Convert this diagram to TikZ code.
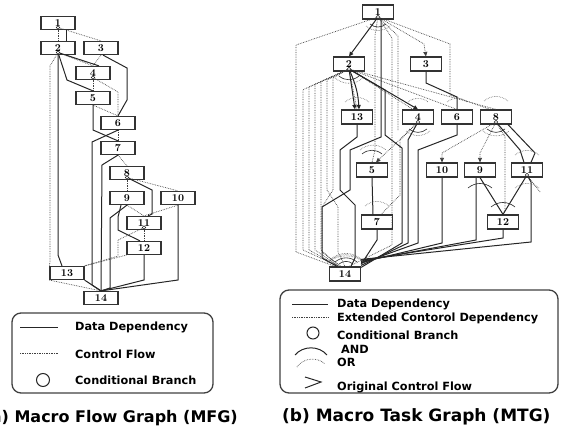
\documentclass[tikz,border=0pt]{standalone}
\usepackage{fontspec}
\usepackage{tikz}
\usetikzlibrary{arrows.meta}
\newfontfamily\legfont{DejaVu Sans}

\begin{document}
\begin{tikzpicture}[x=1pt,y=-1pt,
  mt/.style={draw=black!80,line width=1.2pt,fill=white,minimum width=34pt,minimum height=13pt,inner sep=0pt,font=\bfseries\fontsize{10.5}{10.5}\selectfont},
  tk/.style={mt,minimum width=31pt,minimum height=14pt},
  dep/.style={black!85,line width=1pt},
  ctl/.style={black!75,line width=0.7pt,densely dotted},
  cb/.style={circle,draw=black!85,line width=0.6pt,fill=white,inner sep=0pt,minimum size=3.4pt},
  andarc/.style={black!85,line width=0.6pt},
  orarc/.style={black!65,line width=0.6pt,densely dotted},
  arr/.style={-{Triangle[length=4.5pt,width=4pt]}},
  legbox/.style={draw=black!75,line width=1.3pt,rounded corners=9pt},
  legtxt/.style={anchor=west,inner sep=0pt,font=\legfont\bfseries\fontsize{11.3}{12}\selectfont},
  capt/.style={inner sep=0pt,font=\legfont\bfseries\fontsize{17}{18}\selectfont}]
\useasboundingbox (0,0) rectangle (565,431);

% ---------------- macro flow graph
\node[mt] (m1) at (58,23) {1};
\node[mt] (m2) at (58,48) {2};
\node[mt] (m3) at (101,48) {3};
\node[mt] (m4) at (93,73) {4};
\node[mt] (m5) at (93,98) {5};
\node[mt] (m6) at (118,123) {6};
\node[mt] (m7) at (118,148) {7};
\node[mt] (m8) at (127,173) {8};
\node[mt] (m9) at (127,198) {9};
\node[mt] (m10) at (178,198) {10};
\node[mt] (m11) at (144,223) {11};
\node[mt] (m12) at (144,248) {12};
\node[mt] (m13) at (67,273) {13};
\node[mt] (m14) at (101,298) {14};

\node[cb] (b1) at (58,27.5) {};
\node[cb] (b2) at (58,52.5) {};
\node[cb] (b4) at (93,77.5) {};
\node[cb] (b8) at (127,177.5) {};
\node[cb] (b11) at (144,227.5) {};

% control flow
\draw[ctl] (b1) -- (m2.north);
\draw[ctl] (b1) -- (m3.north);
\draw[ctl] (b2) -- (m4.north);
\draw[ctl] (b2) -- (50,66) -- (50,262) -- (m13.north west);
\draw[ctl] (m3.south) -- (m4.north);
\draw[ctl] (b4) -- (m5.north);
\draw[ctl] (b4) -- (118,92) -- (m6.north);
\draw[ctl] (m5.south) -- (m6.north);
\draw[ctl] (m6.south) -- (m7.north);
\draw[ctl] (m7.south) -- (m8.north);
\draw[ctl] (b8) -- (m9.north);
\draw[ctl] (b8) -- (m10.north);
\draw[ctl] (m9.south) -- (m11.north);
\draw[ctl] (m10.south) -- (m11.north);
\draw[ctl] (b11) -- (m12.north);
\draw[ctl] (b11) -- (118,240) -- (118,256) -- (m13.north east);
\draw[ctl] (m12.south west) -- (m13.north east);
\draw[ctl] (m13.south west) -- (m14.north);

% data dependency
\draw[dep] ([xshift=8]m1.south) -- ([xshift=8]m2.north);
\draw[dep] (b2) -- ([xshift=6]m4.north);
\draw[dep] (b2) -- (67,80) -- (m5.north);
\draw[dep] (b2) -- (58,255) -- ([xshift=-5]m13.north);
\draw[dep] ([xshift=2]m3.south) -- (127,68) -- (127,100) -- (m6.north);
\draw[dep] (m5.south) -- (93,130) -- (m7.north);
\draw[dep] (m6.south) -- (92,142) -- (92,285) -- (m14.north);
\draw[dep] (m7.south) -- (102,165) -- (m14.north);
\draw[dep] (b8) -- (152,190) -- (152,214) -- ([xshift=4]m11.north);
\draw[dep] (m9.south) -- (110,218) -- (110,288) -- (m14.north);
\draw[dep] ([xshift=-6]m9.south) -- (118,217) -- (118,230) -- ([xshift=-4]m12.north);
\draw[dep] (m10.south) -- (178,280) -- (m14.north);
\draw[dep] (m12.south) -- (144,280) -- (m14.north);
\draw[dep] (m13.south east) -- (m14.north);

% legend
\draw[legbox] (12,313) rectangle (213,393);
\draw[dep] (20,327) -- (58,327);
\node[legtxt] (la1) at (75,327) {Data Dependency};
\draw[ctl] (20,353) -- (58,353);
\node[legtxt] (la2) at (75,354) {Control Flow};
\draw[black!85,line width=1pt] (43,380) circle (6.5);
\node[legtxt] (la3) at (75,380) {Conditional Branch};
\node[capt,anchor=east,font=\legfont\bfseries\fontsize{16}{18}\selectfont] (capa) at (238,418) {(a) Macro Flow Graph (MFG)};

% ---------------- macro task graph
\node[tk] (t1) at (378,12) {1};
\node[tk] (t2) at (349,64) {2};
\node[tk] (t3) at (426,64) {3};
\node[tk] (t13) at (357,117) {13};
\node[tk] (t4) at (418,117) {4};
\node[tk] (t6) at (457,117) {6};
\node[tk] (t8) at (496,117) {8};
\node[tk] (t5) at (372,170) {5};
\node[tk] (t10) at (442,170) {10};
\node[tk] (t9) at (480,170) {9};
\node[tk] (t11) at (527,170) {11};
\node[tk] (t7) at (377,222) {7};
\node[tk] (t12) at (503,222) {12};
\node[tk] (t14) at (345,274) {14};

\node[cb] (tb1) at (378,17) {};
\node[cb] (tb2) at (349,69) {};
\node[cb] (tb4) at (418,122) {};
\node[cb] (tb8) at (496,122) {};
\node[cb] (tb11) at (527,175) {};

% extended control dependency
\draw[ctl] (tb1) -- (296,45) -- (296,252) -- ([xshift=-10]t14.north);
\foreach \x in {303,309,315,321} {
  \draw[ctl] (tb2) -- (\x,{69+(349-\x)*0.45}) -- (\x,250) -- ([xshift=-6]t14.north);
}
\draw[ctl] (tb2) -- (327,80) -- (327,190) -- (338,207) -- (338,252) -- (t14.north);
\draw[ctl] (tb2) -- (333,78) -- (333,190) -- (322,207) -- (322,252) -- ([xshift=-4]t14.north);
\draw[ctl,arr] (tb1) -- (424,44) -- (t3.north);
\draw[ctl] (tb1) -- (450,44) -- (450,95) -- ([xshift=-6]t8.north);
\draw[ctl] (tb1) -- (375,35) -- (375,150) -- (t5.north);
\draw[ctl] (tb1) -- (392,38) -- (392,245) -- ([xshift=4]t14.north);
\draw[ctl] (tb1) -- (398,36) -- (398,130);
\draw[ctl] (tb2) -- (t13.north);
\draw[ctl] (tb2) -- ([xshift=-5]t4.north);
\draw[ctl] (tb2) -- (t6.north);
\draw[ctl] (tb2) -- (t8.north);
\draw[ctl,arr] (tb4) -- ([xshift=4]t5.north);
\draw[ctl] (tb4) -- (400,140) -- (400,195) -- ([xshift=4]t7.north);
\draw[ctl,arr] (tb8) -- (442,153) -- (t10.north);
\draw[ctl,arr] (tb8) -- (480,153) -- (t9.north);
\draw[ctl] (tb8) -- (505,137) -- (505,210) -- (t12.north);
\draw[ctl] (tb11) -- (540,192);

% data dependency
\draw[dep,arr] (tb1) -- (t2.north);
\draw[dep,arr] (tb2) -- ([xshift=-2]t13.north);
\draw[dep,arr] (tb2) to[bend left=10] ([xshift=2]t13.north);
\draw[dep,arr] (tb2) -- (t4.north);
\draw[dep] (tb2) -- (385,90) -- (385,135) -- (402,148) -- (402,243) -- ([yshift=-1]t14.north east);
\draw[dep] (tb4) -- (408,140) -- (408,243) -- ([yshift=1]t14.north east);
\draw[dep] (t6.south) -- (457,135) -- (418,150) -- (418,243) -- ([yshift=3]t14.north east);
\draw[dep] (t3.south) -- (426,83) -- (457,97) -- (t6.north);
\draw[dep] (381,18) -- (381,137) -- (350,150) -- (350,190) -- (322,207) -- (322,258) -- ([xshift=-8]t14.north);
\draw[dep] (t13.south) -- (357,137) -- (340,150) -- (340,190) -- (355,205) -- (355,258) -- ([xshift=6]t14.north);
\draw[dep] (t5.south) -- ([xshift=-4]t7.north);
\draw[dep] (t7.south) -- (377,240) -- ([yshift=2]t14.north east);
\draw[dep] (t10.south) -- (442,243) -- ([yshift=4]t14.north east);
\draw[dep] ([xshift=-4]t9.south) -- (476,240) -- ([yshift=5]t14.north east);
\draw[dep] (t9.south) -- (t12.north);
\draw[dep] (tb11) -- (t12.north);
\draw[dep] (tb11) -- (531,182) -- (531,242) -- ([yshift=7]t14.north east);
\draw[dep] (t12.south) -- (503,238) -- ([yshift=6]t14.north east);
\draw[dep] (tb8) -- (520,150) -- ([xshift=-3]t11.north);
\draw[dep] ([xshift=12]t8.south) -- (535,153) -- ([xshift=4]t11.north);

% and / or marks
\draw[orarc] (366,26) to[bend right=40] (390,26);
\draw[andarc] (370,24) to[bend right=40] (386,24);
\draw[orarc] (335,78) to[bend right=40] (363,78);
\draw[andarc] (339,76) to[bend right=40] (359,76);
\draw[orarc] (345,102) to[bend left=40] (369,102);
\draw[orarc] (408,102) to[bend left=40] (428,102);
\draw[orarc] (447,102) to[bend left=40] (467,102);
\draw[orarc] (484,101) to[bend left=40] (508,101);
\draw[orarc] (406,131) to[bend right=40] (430,131);
\draw[andarc] (409,129) to[bend right=40] (427,129);
\draw[orarc] (483,131) to[bend right=40] (509,131);
\draw[andarc] (487,129) to[bend right=40] (505,129);
\draw[andarc] (362,154) to[bend left=40] (382,154);
\draw[orarc] (360,150) to[bend left=40] (386,150);
\draw[orarc] (365,206) to[bend left=40] (389,206);
\draw[andarc] (468,188) to[bend left=40] (492,188);
\draw[orarc] (515,155) to[bend left=40] (539,155);
\draw[orarc] (515,188) to[bend left=40] (539,188);
\draw[andarc] (491,207) to[bend left=40] (515,207);
\foreach \r in {0,2,4} {
  \draw[orarc] ({331-\r},{259+\r}) to[bend left=40] ({361+\r},{259+\r});
}
\draw[andarc] (335,262) to[bend left=40] (357,262);
\draw[andarc] (339,264) to[bend left=40] (353,264);

% legend
\draw[legbox] (280,290) rectangle (558,393);
\draw[dep] (292,304) -- (328,304);
\node[legtxt] (lb1) at (337,304) {Data Dependency};
\draw[ctl] (292,317) -- (328,317);
\node[legtxt] (lb2) at (337,318) {Extended Contorol Dependency};
\draw[black!85,line width=1pt] (313,333) circle (6);
\node[legtxt] (lb3) at (337,335) {Conditional Branch};
\draw[andarc,line width=1pt] (295,355) to[bend left=50] (327,355);
\node[legtxt] (lb4) at (341,349) {AND};
\draw[orarc,line width=0.8pt] (297,367) to[bend left=50] (325,364);
\node[legtxt] (lb5) at (337,362) {OR};
\draw[dep] (305,377) -- (321,382) -- (305,388);
\node[legtxt] (lb6) at (337,387) {Original Control Flow};
\node[capt,anchor=west] (capb) at (282,417) {(b) Macro Task Graph (MTG)};
\end{tikzpicture}
\end{document}
